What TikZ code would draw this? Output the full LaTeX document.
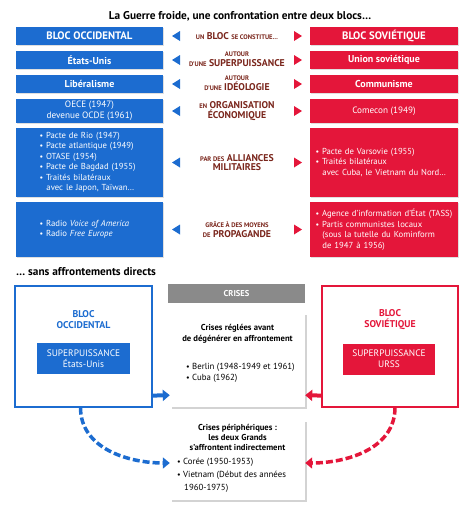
\documentclass[tikz,border=0pt]{standalone}
\usepackage{fontspec}
\setmainfont{PT Sans}
\usetikzlibrary{calc,shapes,arrows.meta,shadows}

\definecolor{bleuOuest}{RGB}{28,108,208}
\definecolor{rougeEst}{RGB}{228,22,58}
\definecolor{brunTexte}{RGB}{122,38,28}
\definecolor{grisCrise}{RGB}{138,138,138}

\newcommand{\pc}[1]{{\fontsize{6.6}{7}\selectfont #1}}
\newcommand{\puce}{{\footnotesize\textbullet}~}
\newcommand{\retrait}{\hspace*{0.8em}}

\tikzset{
	ouest/.style={fill=bleuOuest, text=white, minimum width=147pt, inner sep=0pt,
		font=\fontsize{8.7}{10.5}\selectfont,
		drop shadow={opacity=0.25, shadow xshift=1pt, shadow yshift=-1pt}},
	est/.style={ouest, fill=rougeEst, minimum width=148pt},
	milieu/.style={text=brunTexte, align=center, inner sep=0pt,
		font=\fontsize{9.8}{9.5}\selectfont\bfseries},
	bloc/.style={fill=white, line width=1.2pt, minimum width=137pt, minimum height=121pt,
		drop shadow={opacity=0.2, shadow xshift=1pt, shadow yshift=-1pt}},
	puissance/.style={text=white, align=center, minimum width=93pt, minimum height=31pt,
		font=\fontsize{9.4}{11}\selectfont},
	crise/.style={fill=white, minimum width=135pt, inner sep=0pt,
		drop shadow={opacity=0.35, shadow xshift=1.5pt, shadow yshift=-1.5pt}},
	crisetxt/.style={font=\fontsize{8.8}{11}\selectfont, inner sep=0pt},
	pleine/.style={line width=4pt, -{Triangle[width=11pt,length=7pt]}},
	tiret/.style={line width=3.5pt, dash pattern=on 7pt off 3pt, -{Triangle[width=11pt,length=7pt]}}
}

\begin{document}
\begin{tikzpicture}[x=1pt,y=1pt]

		\useasboundingbox (0,0) rectangle (474,-515);

		\node[at={(240,-16)}, font=\fontsize{11.3}{13}\selectfont\bfseries] (titre)
			{La Guerre froide, une confrontation entre deux blocs…};

		% colonne de gauche
		\node[ouest, minimum height=18pt, at={(89.5,-36)}, font=\fontsize{10.8}{12}\selectfont\bfseries] (ouest1) {BLOC OCCIDENTAL};
		\node[ouest, minimum height=18pt, at={(89.5,-60)}, font=\fontsize{10}{11}\selectfont\bfseries] (ouest2) {États-Unis};
		\node[ouest, minimum height=18pt, at={(89.5,-84)}, font=\fontsize{10}{11}\selectfont\bfseries] (ouest3) {Libéralisme};
		\node[ouest, minimum height=24pt, at={(89.5,-111)}, align=center, font=\fontsize{9.2}{11}\selectfont] (ouest4) {OECE (1947)\\devenue OCDE (1961)};
		\node[ouest, minimum height=69pt, at={(89.5,-162.5)}, text width=100pt, align=left] (ouest5)
			{\puce Pacte de Rio (1947)\\\puce Pacte atlantique (1949)\\\puce OTASE (1954)\\\puce Pacte de Bagdad (1955)\\
			\puce Traités bilatéraux\\\retrait avec le Japon, Taïwan…};
		\node[ouest, minimum height=55pt, at={(89.5,-229.5)}, text width=100pt, align=left] (ouest6)
			{\puce Radio \textit{Voice of America}\\\puce Radio \textit{Free Europe}};

		% colonne de droite
		\node[est, minimum height=18pt, at={(384,-36)}, font=\fontsize{10.8}{12}\selectfont\bfseries] (est1) {BLOC SOVIÉTIQUE};
		\node[est, minimum height=18pt, at={(384,-60)}, font=\fontsize{10}{11}\selectfont\bfseries] (est2) {Union soviétique};
		\node[est, minimum height=18pt, at={(384,-84)}, font=\fontsize{10}{11}\selectfont\bfseries] (est3) {Communisme};
		\node[est, minimum height=24pt, at={(384,-111)}, font=\fontsize{9.2}{11}\selectfont] (est4) {Comecon (1949)};
		\node[est, minimum height=69pt, at={(384,-162.5)}, text width=137pt, align=left] (est5)
			{\puce Pacte de Varsovie (1955)\\\puce Traités bilatéraux\\\retrait avec Cuba, le Vietnam du Nord…};
		\node[est, minimum height=55pt, at={(384,-229.5)}, text width=137pt, align=left] (est6)
			{\puce Agence d’information d’État (TASS)\\\puce Partis communistes locaux\\
			\retrait (sous la tutelle du Kominform\\\retrait de 1947 à 1956)};

		% libellés du milieu
		\node[milieu, at={(237,-36)}] (mil1) {\pc{UN} BLOC \pc{SE CONSTITUE…}};
		\node[milieu, at={(237,-59)}] (mil2) {\pc{AUTOUR}\\\pc{D’UNE} SUPERPUISSANCE};
		\node[milieu, at={(237,-83)}] (mil3) {\pc{AUTOUR}\\\pc{D’UNE} IDÉOLOGIE};
		\node[milieu, at={(237,-111)}] (mil4) {\pc{EN} ORGANISATION\\ÉCONOMIQUE};
		\node[milieu, at={(237,-162.5)}] (mil5) {\pc{PAR DES} ALLIANCES\\MILITAIRES};
		\node[milieu, at={(237,-229.5)}] (mil6) {\pc{GRÂCE À DES MOYENS}\\\pc{DE} PROPAGANDE};

		% petits triangles
		\fill[bleuOuest] (180,-31) -- (172,-36) -- (180,-41) -- cycle;
		\fill[bleuOuest] (180,-55) -- (172,-60) -- (180,-65) -- cycle;
		\fill[bleuOuest] (180,-79) -- (172,-84) -- (180,-89) -- cycle;
		\fill[bleuOuest] (180,-106) -- (172,-111) -- (180,-116) -- cycle;
		\fill[bleuOuest] (180,-157.5) -- (172,-162.5) -- (180,-167.5) -- cycle;
		\fill[bleuOuest] (180,-224.5) -- (172,-229.5) -- (180,-234.5) -- cycle;
		\fill[rougeEst] (294,-31) -- (302,-36) -- (294,-41) -- cycle;
		\fill[rougeEst] (294,-55) -- (302,-60) -- (294,-65) -- cycle;
		\fill[rougeEst] (294,-79) -- (302,-84) -- (294,-89) -- cycle;
		\fill[rougeEst] (294,-106) -- (302,-111) -- (294,-116) -- cycle;
		\fill[rougeEst] (294,-157.5) -- (302,-162.5) -- (294,-167.5) -- cycle;
		\fill[rougeEst] (294,-224.5) -- (302,-229.5) -- (294,-234.5) -- cycle;

		\node[at={(16,-272)}, anchor=west, inner sep=0pt, font=\fontsize{11.3}{13}\selectfont\bfseries] (sans)
			{… sans affrontements directs};

		% les deux blocs
		\node[bloc, draw=bleuOuest, at={(83.5,-346.5)}] (occ) {};
		\node[at={(83.5,-319.5)}, text=bleuOuest, align=center, font=\fontsize{9.8}{11.5}\selectfont\bfseries] (occ-nom) {BLOC\\OCCIDENTAL};
		\node[puissance, fill=bleuOuest, at={(83.5,-358.5)}] (eu) {SUPERPUISSANCE\\États-Unis};

		\node[bloc, draw=rougeEst, minimum width=136pt, at={(390,-346.5)}] (sov) {};
		\node[at={(390,-319.5)}, text=rougeEst, align=center, font=\fontsize{9.8}{11.5}\selectfont\bfseries] (sov-nom) {BLOC\\SOVIÉTIQUE};
		\node[puissance, fill=rougeEst, minimum width=92pt, at={(389,-359)}] (urss) {SUPERPUISSANCE\\URSS};

		% crises
		\node[fill=grisCrise, text=white, minimum width=137pt, minimum height=19pt, inner sep=0pt,
			at={(236.5,-293.5)}, font=\fontsize{8.5}{10}\selectfont\bfseries] (crises) {CRISES};
		\node[crise, minimum height=94pt, at={(237.5,-360)}] (regle) {};
		\node[crisetxt, at={(237.5,-334)}, align=center, font=\fontsize{8.6}{11.5}\selectfont\bfseries] (regle-titre)
			{Crises réglées avant\\de dégénérer en affrontement};
		\node[crisetxt, at={(186,-373)}, anchor=west, align=left] (regle-liste)
			{\puce Berlin (1948-1949 et 1961)\\\puce Cuba (1962)};

		\node[crise, minimum height=80pt, at={(237.5,-460)}] (periph) {};
		\node[crisetxt, at={(237.5,-437.5)}, align=center, font=\fontsize{8.6}{9.8}\selectfont\bfseries] (periph-titre)
			{Crises périphériques :\\les deux Grands\\s’affrontent indirectement};
		\node[crisetxt, at={(177,-475)}, anchor=west, align=left, font=\fontsize{8.8}{12.8}\selectfont] (periph-liste)
			{\puce Corée (1950-1953)\\\puce Vietnam (Début des années\\\retrait 1960-1975)};

		% flèches
		\draw[pleine, bleuOuest] ([yshift=12pt]occ.south east) -- ([yshift=12pt]regle.south west);
		\draw[pleine, rougeEst] ([yshift=12pt]sov.south west) -- ([yshift=12pt]regle.south east);
		\draw[tiret, bleuOuest] ([xshift=-3pt]occ.south) to[out=-90, in=180] ([yshift=-3pt]periph.west);
		\draw[tiret, rougeEst] ([xshift=5pt]sov.south) to[out=-90, in=0] ([yshift=-3pt]periph.east);

	\end{tikzpicture}
\end{document}
